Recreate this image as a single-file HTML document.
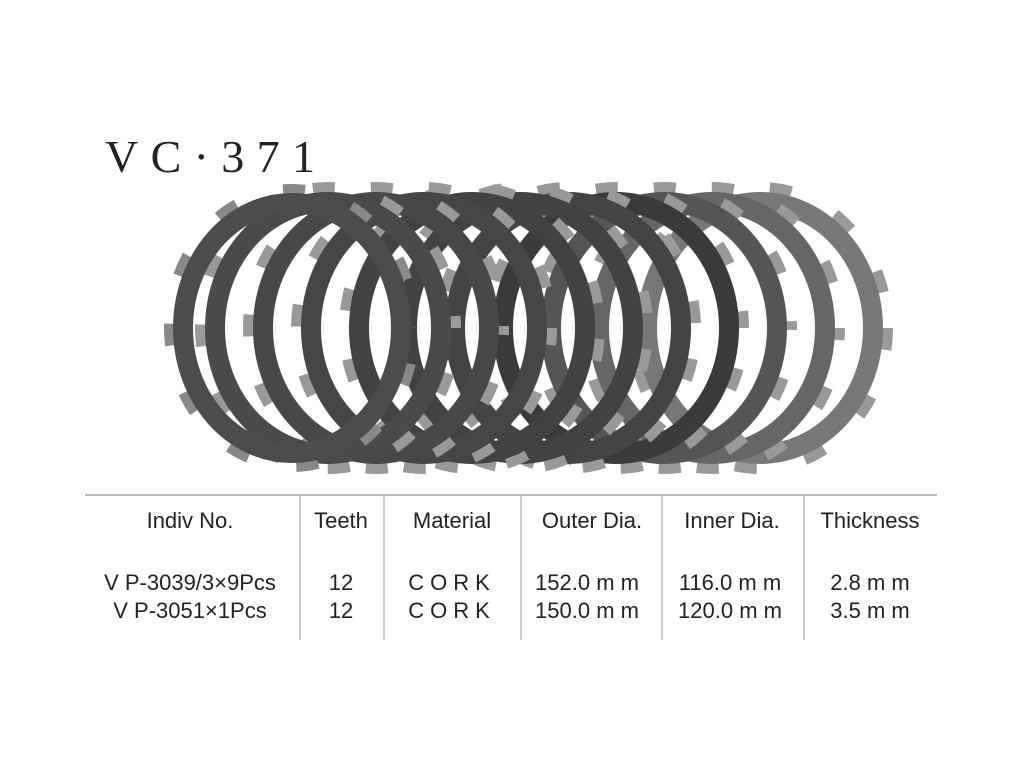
<!DOCTYPE html>
<html><head><meta charset="utf-8"><style>
body{margin:0;background:#fff;}
svg{display:block}
text{font-family:"Liberation Sans",sans-serif;fill:#222}
</style></head><body>
<svg width="1024" height="768" viewBox="0 0 1024 768">
<text x="105" y="172" style="font-family:'Liberation Serif',serif" font-size="46" textLength="210" lengthAdjust="spacing" fill="#222">VC·371</text>
<g fill="none">
<ellipse cx="760" cy="328" rx="127" ry="140" stroke="#999" stroke-width="12" stroke-dasharray="22 49"/>
<ellipse cx="760" cy="328" rx="113" ry="126" stroke="#777" stroke-width="20"/>
<ellipse cx="712" cy="328" rx="127" ry="140" stroke="#999" stroke-width="12" stroke-dasharray="22 49" stroke-dashoffset="10"/>
<ellipse cx="712" cy="328" rx="113" ry="126" stroke="#666" stroke-width="20"/>
<ellipse cx="664" cy="328" rx="127" ry="140" stroke="#999" stroke-width="12" stroke-dasharray="22 49" stroke-dashoffset="20"/>
<ellipse cx="664" cy="328" rx="113" ry="126" stroke="#555" stroke-width="20"/>
<ellipse cx="616" cy="328" rx="127" ry="140" stroke="#999" stroke-width="12" stroke-dasharray="22 49" stroke-dashoffset="30"/>
<ellipse cx="616" cy="328" rx="113" ry="126" stroke="#3a3a3a" stroke-width="20"/>
<ellipse cx="568" cy="328" rx="127" ry="140" stroke="#999" stroke-width="12" stroke-dasharray="22 49" stroke-dashoffset="40"/>
<ellipse cx="568" cy="328" rx="113" ry="126" stroke="#444" stroke-width="20"/>
<ellipse cx="520" cy="328" rx="127" ry="140" stroke="#999" stroke-width="12" stroke-dasharray="22 49" stroke-dashoffset="50"/>
<ellipse cx="520" cy="328" rx="113" ry="126" stroke="#424242" stroke-width="20"/>
<ellipse cx="472" cy="328" rx="127" ry="140" stroke="#999" stroke-width="12" stroke-dasharray="22 49" stroke-dashoffset="60"/>
<ellipse cx="472" cy="328" rx="113" ry="126" stroke="#424242" stroke-width="20"/>
<ellipse cx="424" cy="328" rx="127" ry="140" stroke="#999" stroke-width="12" stroke-dasharray="22 49" stroke-dashoffset="5"/>
<ellipse cx="424" cy="328" rx="113" ry="126" stroke="#464646" stroke-width="20"/>
<ellipse cx="376" cy="328" rx="127" ry="140" stroke="#999" stroke-width="12" stroke-dasharray="22 49" stroke-dashoffset="15"/>
<ellipse cx="376" cy="328" rx="113" ry="126" stroke="#484848" stroke-width="20"/>
<ellipse cx="328" cy="328" rx="127" ry="140" stroke="#999" stroke-width="12" stroke-dasharray="22 49" stroke-dashoffset="25"/>
<ellipse cx="328" cy="328" rx="113" ry="126" stroke="#4a4a4a" stroke-width="20"/>
<ellipse cx="292" cy="328" rx="122" ry="138" stroke="#888" stroke-width="12" stroke-dasharray="22 49" stroke-dashoffset="35"/>
<ellipse cx="292" cy="328" rx="109" ry="125" stroke="#4c4c4c" stroke-width="20"/>
</g>
<line x1="85" y1="495" x2="937" y2="495" stroke="#bbb" stroke-width="2"/>
<g stroke="#bbb" stroke-width="1.5">
<line x1="300" y1="495" x2="300" y2="640"/>
<line x1="384" y1="495" x2="384" y2="640"/>
<line x1="521" y1="495" x2="521" y2="640"/>
<line x1="662" y1="495" x2="662" y2="640"/>
<line x1="804" y1="495" x2="804" y2="640"/>
</g>
<g font-size="22" text-anchor="middle">
<text x="190" y="528">Indiv No.</text>
<text x="341" y="528">Teeth</text>
<text x="452" y="528">Material</text>
<text x="592" y="528">Outer Dia.</text>
<text x="732" y="528">Inner Dia.</text>
<text x="870" y="528">Thickness</text>
<text x="190" y="590">V P-3039/3×9Pcs</text>
<text x="341" y="590">12</text>
<text x="452" y="590" letter-spacing="6">CORK</text>
<text x="587" y="590">152.0 m m</text>
<text x="730" y="590">116.0 m m</text>
<text x="870" y="590">2.8 m m</text>
<text x="190" y="618">V P-3051×1Pcs</text>
<text x="341" y="618">12</text>
<text x="452" y="618" letter-spacing="6">CORK</text>
<text x="587" y="618">150.0 m m</text>
<text x="730" y="618">120.0 m m</text>
<text x="870" y="618">3.5 m m</text>
</g>
</svg>
</body></html>
